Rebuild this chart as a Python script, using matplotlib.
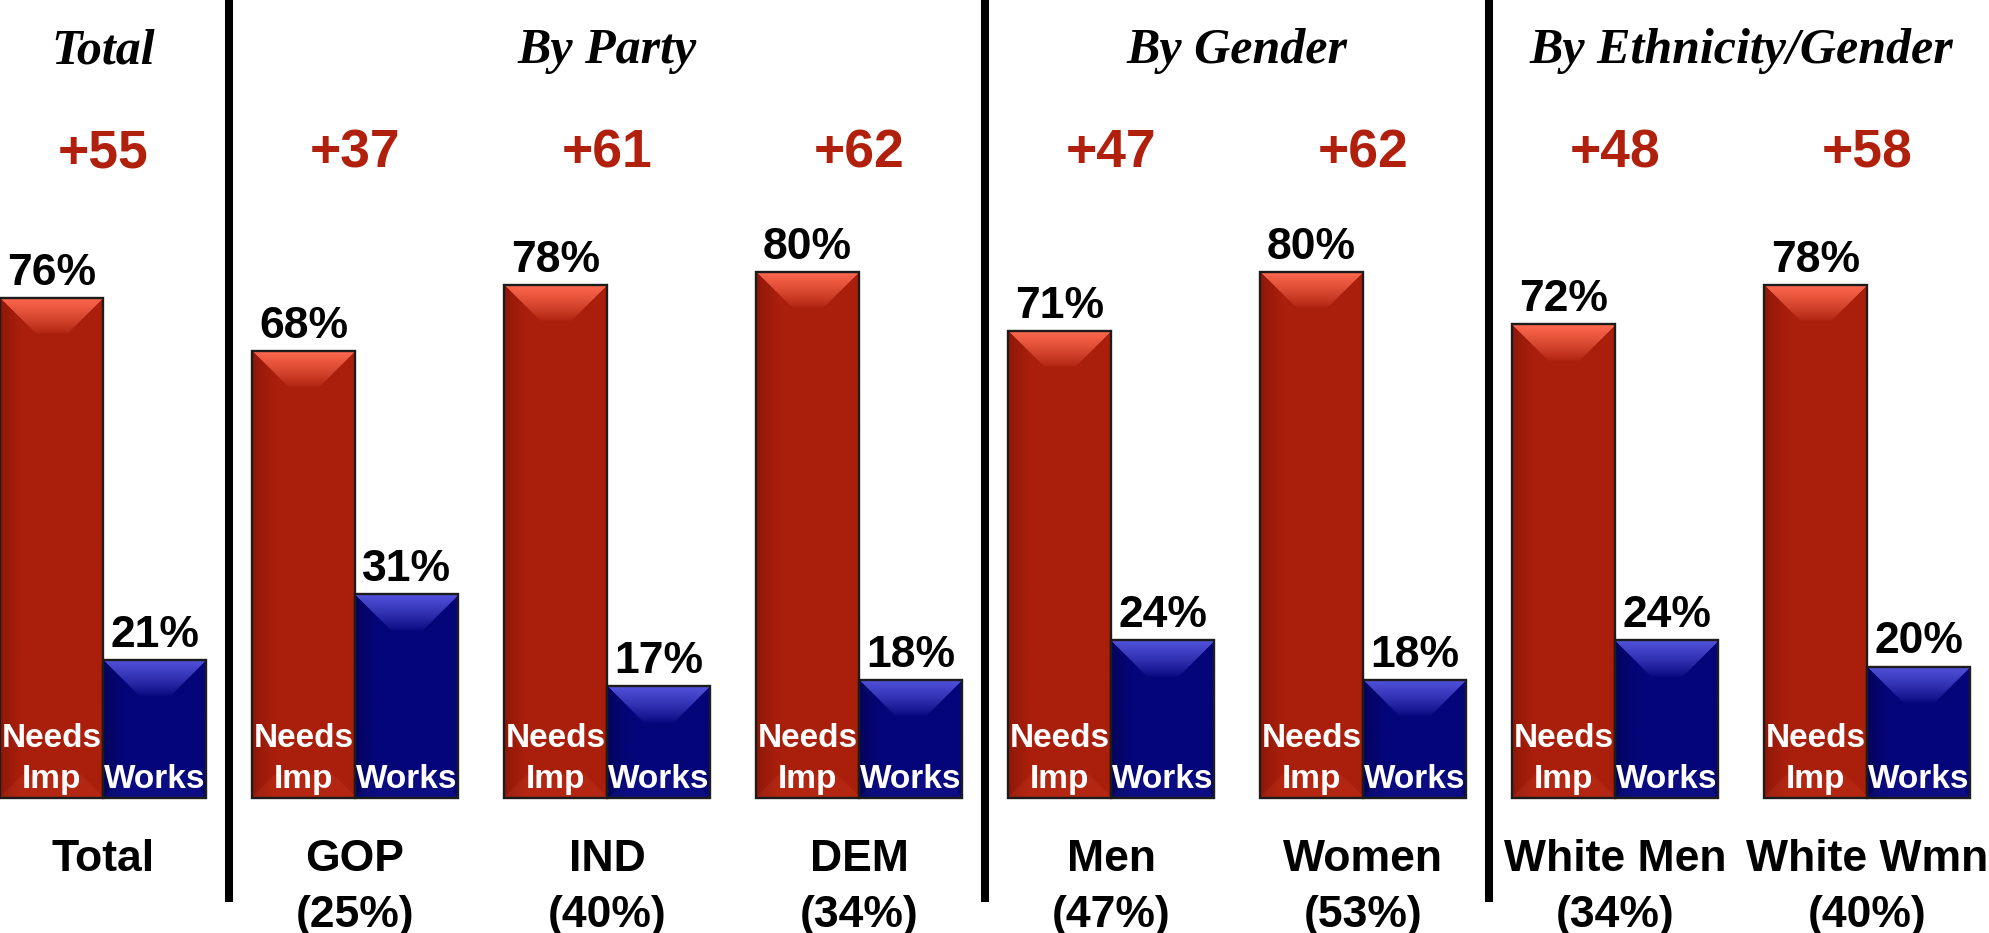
import numpy as np
import matplotlib
matplotlib.use("Agg")
import matplotlib.pyplot as plt
from matplotlib.colors import to_rgb

# data
groups = ['Total', 'GOP', 'IND', 'DEM', 'Men', 'Women', 'White Men', 'White Wmn']
shares = ['', '(25%)', '(40%)', '(34%)', '(47%)', '(53%)', '(34%)', '(40%)']
needs_imp = [76, 68, 78, 80, 71, 80, 72, 78]
works = [21, 31, 17, 18, 24, 18, 24, 20]
headers = ['Total', 'By Party', 'By Gender', 'By Ethnicity/Gender']
header_pos = [0, 2, 4.5, 6.5]
dividers = [0.5, 3.5, 5.5]

RED = '#aa1f0c'
RED_LIGHT = '#ff6a50'
RED_DARK = '#6e1005'
BLUE = '#05057a'
BLUE_LIGHT = '#5252dc'
BLUE_DARK = '#02023a'
MARGIN_COLOR = '#b0200c'

SANS = 'Liberation Sans'
SERIF = 'Liberation Serif'

PX_X = 252.0   # pixels per category step
PX_Y = 6.579   # pixels per percent


def shade_bar(ax, rect, base, light, dark, depth_px=37):
    # bevelled look of the old powerpoint bars
    x0, y0 = rect.get_x(), rect.get_y()
    w, h = rect.get_width(), rect.get_height()
    base, light, dark = np.array(to_rgb(base)), np.array(to_rgb(light)), np.array(to_rgb(dark))
    wpx, hpx = w * PX_X, h * PX_Y
    ny, nx = max(int(hpx), 4), int(wpx)
    u = np.linspace(0, wpx, nx)[None, :]
    d = np.linspace(0, hpx, ny)[:, None]
    img = np.ones((ny, nx, 3)) * base
    # darker left edge
    wl = (np.clip(1 - u / (wpx * 0.2), 0, 1) * 0.45)[..., None]
    img = img * (1 - wl) + dark * wl
    # top bevel, trapezoid with 45 degree sides
    inside = (d < depth_px) & (u > d) & (u < wpx - d)
    t = np.clip(1 - d / depth_px, 0, 1)
    wt = np.where(inside, t ** 0.8, 0.0)[..., None]
    img = img * (1 - wt) + light * wt
    # faint bottom bevel
    db = hpx - d
    inside_b = (db < depth_px * 0.6) & (u > db) & (u < wpx - db)
    wb = np.where(inside_b, 0.1, 0.0)[..., None]
    img = img * (1 - wb) + light * wb
    ax.imshow(img, extent=(x0, x0 + w, y0, y0 + h), origin='upper',
              aspect='auto', interpolation='bilinear', zorder=2)


fig = plt.figure(figsize=(19.9, 9.33), dpi=100)
ax = fig.add_axes([0, 0, 1, 1])
ax.axis('off')

x = np.arange(len(groups))
w = 0.41
red_bars = ax.bar(x - w / 2, needs_imp, w, color=RED, zorder=1)
blue_bars = ax.bar(x + w / 2, works, w, color=BLUE, zorder=1)
for r in red_bars:
    shade_bar(ax, r, RED, RED_LIGHT, RED_DARK)
for r in blue_bars:
    shade_bar(ax, r, BLUE, BLUE_LIGHT, BLUE_DARK)
ax.bar(x - w / 2, needs_imp, w, fill=False, edgecolor='#1c1c1c', linewidth=1.7, zorder=3)
ax.bar(x + w / 2, works, w, fill=False, edgecolor='#1c1c1c', linewidth=1.7, zorder=3)

for i in range(len(groups)):
    ax.text(x[i] - w / 2, needs_imp[i] + 2.0, f'{needs_imp[i]}%', ha='center', va='baseline',
            fontsize=32, fontweight='bold', family=SANS, zorder=5)
    ax.text(x[i] + w / 2, works[i] + 2.0, f'{works[i]}%', ha='center', va='baseline',
            fontsize=32, fontweight='bold', family=SANS, zorder=5)
    ax.text(x[i], 95.9, f'+{needs_imp[i] - works[i]}', ha='center', va='baseline',
            fontsize=38.5, fontweight='bold', family=SANS, color=MARGIN_COLOR)
    ax.text(x[i] - w / 2, 7.75, 'Needs', ha='center', va='baseline', fontsize=24,
            fontweight='bold', family=SANS, color='white', zorder=5)
    ax.text(x[i] - w / 2, 1.5, 'Imp', ha='center', va='baseline', fontsize=24,
            fontweight='bold', family=SANS, color='white', zorder=5)
    ax.text(x[i] + w / 2, 1.5, 'Works', ha='center', va='baseline', fontsize=24,
            fontweight='bold', family=SANS, color='white', zorder=5)
    ax.text(x[i], -11.1, groups[i], ha='center', va='baseline', fontsize=32,
            fontweight='bold', family=SANS)
    if shares[i]:
        ax.text(x[i], -19.6, shares[i], ha='center', va='baseline', fontsize=32,
                fontweight='bold', family=SANS)

for h, p in zip(headers, header_pos):
    ax.text(p, 111.7, h, ha='center', va='baseline', fontsize=36, fontweight='bold',
            fontstyle='italic', family=SERIF)

ax.vlines(dividers, -15.8, 125, color='black', linewidth=5.8)

ax.set_xlim(-0.409, 7.488)
ax.set_ylim(-20.5, 121.3)
fig.savefig('out.png', dpi=100)
